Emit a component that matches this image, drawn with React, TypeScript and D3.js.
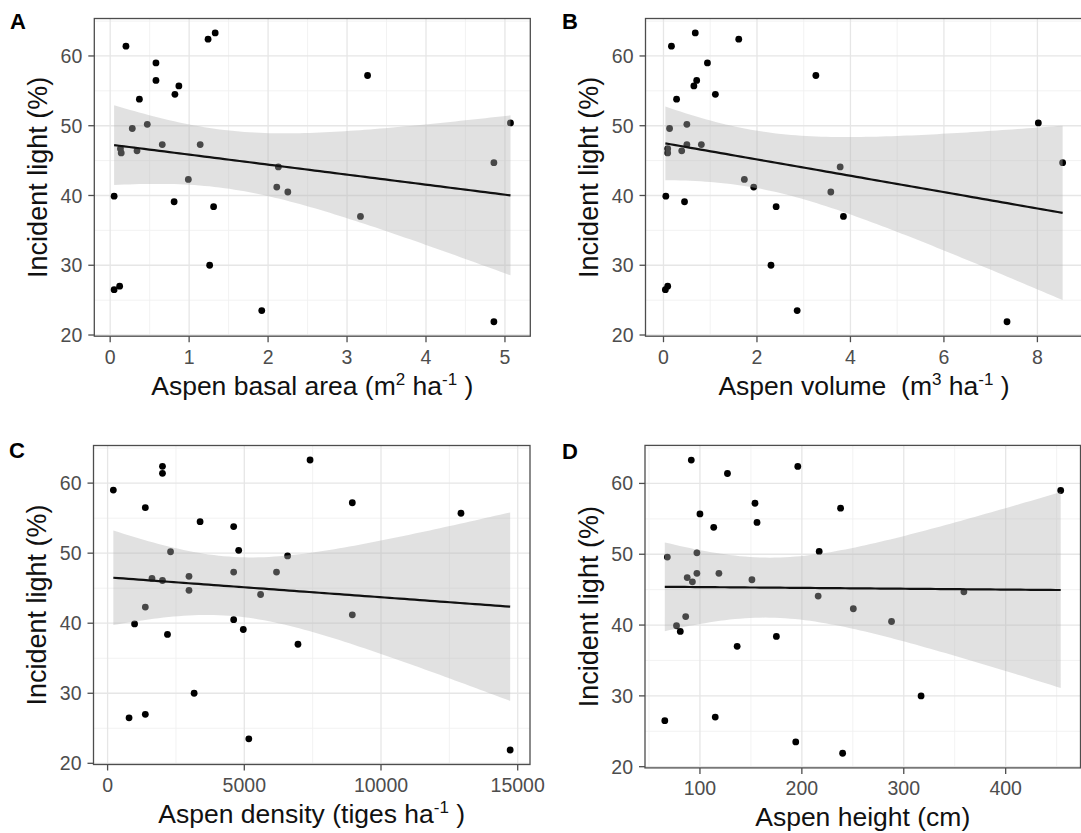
import React from 'react';
import * as d3 from 'd3';

// incident light (%) per site, same order in every x array
const light = [63.3, 62.4, 61.4, 59.0, 57.2, 56.5, 55.7, 54.5, 53.8, 50.4, 50.2, 49.6, 47.3, 47.3, 46.7, 46.4, 46.1, 44.7, 44.1, 42.3, 41.2, 40.5, 39.9, 39.1, 38.4, 37.0, 30.0, 27.0, 26.5, 23.5, 21.9];
const basalArea = [1.33, 1.24, 0.20, 0.58, 3.26, 0.58, 0.87, 0.82, 0.37, 5.07, 0.47, 0.28, 0.66, 1.14, 0.13, 0.34, 0.14, 4.86, 2.13, 0.99, 2.11, 2.25, 0.05, 0.81, 1.31, 3.17, 1.26, 0.12, 0.05, 1.92, 4.86];
const volume = [0.68, 1.61, 0.17, 0.94, 3.26, 0.71, 0.65, 1.11, 0.28, 8.02, 0.50, 0.13, 0.50, 0.81, 0.09, 0.39, 0.09, 8.54, 3.78, 1.73, 1.93, 3.58, 0.05, 0.45, 2.41, 3.85, 2.30, 0.09, 0.04, 2.86, 7.35];
const density = [7405, 2007, 2007, 210, 8950, 1380, 12925, 3383, 4611, 4795, 2302, 6583, 4611, 6178, 2977, 1623, 2007, 2977, 5596, 1380, 8950, 4611, 987, 4963, 2190, 6963, 3165, 1380, 785, 5165, 14724];
const heightCm = [91.5, 196, 127, 454, 154, 238, 100, 156, 113.5, 217, 97, 68, 97, 118.6, 87.5, 151, 92.6, 359, 216, 250.5, 86, 288, 77, 80.7, 175, 136.5, 317, 115, 65.5, 194, 240];

const yTicks = [20, 30, 40, 50, 60];
const yMinor = [25, 35, 45, 55, 65];
const ticksA = [0, 1, 2, 3, 4, 5];
const minorA = [0.5, 1.5, 2.5, 3.5, 4.5];
const ticksB = [0, 2, 4, 6, 8];
const minorB = [1, 3, 5, 7];
const ticksC = [0, 5000, 10000, 15000];
const minorC = [2500, 7500, 12500];
const ticksD = [100, 200, 300, 400];
const minorD = [50, 150, 250, 350, 450];

const FONT = "'Liberation Sans', Arial, Helvetica, sans-serif";

function expand(vals: number[]) {
  const [lo, hi] = d3.extent(vals) as [number, number];
  const pad = (hi - lo) * 0.05;
  return [lo - pad, hi + pad];
}

function fit(xs: number[], ys: number[]) {
  const n = xs.length;
  const mx = d3.mean(xs)!;
  const my = d3.mean(ys)!;
  let sxx = 0, sxy = 0;
  xs.forEach((x, i) => { sxx += (x - mx) ** 2; sxy += (x - mx) * (ys[i] - my); });
  const b = sxy / sxx;
  const a = my - b * mx;
  let rss = 0;
  xs.forEach((x, i) => { rss += (ys[i] - a - b * x) ** 2; });
  const s = Math.sqrt(rss / (n - 2));
  const t = 2.0452; // qt(0.975, 29)
  const [lo, hi] = d3.extent(xs) as [number, number];
  return d3.range(80).map(k => {
    const x = lo + (hi - lo) * k / 79;
    const fitY = a + b * x;
    const se = s * Math.sqrt(1 / n + (x - mx) ** 2 / sxx);
    return { x, y: fitY, lo: fitY - t * se, hi: fitY + t * se };
  });
}

function Panel(props: any) {
  const { letter, letterX, letterY, xs, left, top, w, h, ticks, minor, title } = props;
  const x = d3.scaleLinear().domain(expand(xs)).range([left, left + w]);
  const y = d3.scaleLinear().domain(expand(light)).range([top + h, top]);
  const pred = fit(xs, light);
  const area = d3.area<any>().x(d => x(d.x)).y0(d => y(d.lo)).y1(d => y(d.hi));
  const line = d3.line<any>().x(d => x(d.x)).y(d => y(d.y));
  const bottom = top + h;
  const clipId = 'clip' + letter;
  return (
    <g>
      <defs>
        <clipPath id={clipId}><rect x={left} y={top} width={w} height={h} /></clipPath>
      </defs>
      <g clipPath={`url(#${clipId})`}>
        {minor.map((v: number) => <line key={'mx' + v} x1={x(v)} x2={x(v)} y1={top} y2={bottom} stroke="#f0f0f0" strokeWidth={0.9} />)}
        {yMinor.map(v => <line key={'my' + v} x1={left} x2={left + w} y1={y(v)} y2={y(v)} stroke="#f0f0f0" strokeWidth={0.9} />)}
        {ticks.map((v: number) => <line key={'gx' + v} x1={x(v)} x2={x(v)} y1={top} y2={bottom} stroke="#e6e6e6" strokeWidth={1.3} />)}
        {yTicks.map(v => <line key={'gy' + v} x1={left} x2={left + w} y1={y(v)} y2={y(v)} stroke="#e6e6e6" strokeWidth={1.3} />)}
        {xs.map((v: number, i: number) => <circle key={i} cx={x(v)} cy={y(light[i])} r={3.4} fill="#000" />)}
        <path d={area(pred)!} fill="#b3b3b3" fillOpacity={0.4} />
        <path d={line(pred)!} fill="none" stroke="#111" strokeWidth={2.2} />
      </g>
      <rect x={left} y={top} width={w} height={h} fill="none" stroke="#4d4d4d" strokeWidth={1.3} />
      {ticks.map((v: number) => (
        <g key={'tx' + v}>
          <line x1={x(v)} x2={x(v)} y1={bottom} y2={bottom + 6} stroke="#4d4d4d" strokeWidth={1.3} />
          <text x={x(v)} y={bottom + 27.5} textAnchor="middle" fontSize={19.5} fill="#4d4d4d" fontFamily={FONT}>{v}</text>
        </g>
      ))}
      {yTicks.map(v => (
        <g key={'ty' + v}>
          <line x1={left - 6} x2={left} y1={y(v)} y2={y(v)} stroke="#4d4d4d" strokeWidth={1.3} />
          <text x={left - 12} y={y(v)} dy="0.36em" textAnchor="end" fontSize={19.5} fill="#4d4d4d" fontFamily={FONT}>{v}</text>
        </g>
      ))}
      <text transform={`translate(${left - 47.5},${top + h / 2}) rotate(-90)`} textAnchor="middle" fontSize={27} fill="#111" fontFamily={FONT}>Incident light (%)</text>
      <text x={left + w / 2} y={bottom + 58.5} textAnchor="middle" fontSize={26.5} fill="#111" fontFamily={FONT}>{title}</text>
      <text x={letterX} y={letterY} fontSize={22} fontWeight="bold" fill="#000" fontFamily={FONT}>{letter}</text>
    </g>
  );
}

const sup = (s: string) => [
  <tspan key="s" dy={-10} fontSize={17}>{s}</tspan>,
  <tspan key="r" dy={10}>{'\u00a0'}</tspan>,
];

export default function App() {
  return (
    <svg width={1081} height={833} style={{ position: 'absolute', left: 0, top: 0, background: '#fff' }}>
      <Panel letter="A" letterX={10} letterY={28.5} xs={basalArea} left={94.3} top={18.5} w={436} h={317.7}
        ticks={ticksA} minor={minorA}
        title={<>Aspen basal area (m<tspan dy={-10} fontSize={17}>2</tspan><tspan dy={10}> ha</tspan><tspan dy={-10} fontSize={17}>-1</tspan><tspan dy={10}> )</tspan></>} />
      <Panel letter="B" letterX={562} letterY={29} xs={volume} left={645.5} top={18.5} w={437} h={317.7}
        ticks={ticksB} minor={minorB}
        title={<>Aspen volume {'\u00a0'}(m<tspan dy={-10} fontSize={17}>3</tspan><tspan dy={10}> ha</tspan><tspan dy={-10} fontSize={17}>-1</tspan><tspan dy={10}> )</tspan></>} />
      <Panel letter="C" letterX={9} letterY={458} xs={density} left={93.5} top={445.5} w={436.5} h={319}
        ticks={ticksC} minor={minorC}
        title={<>Aspen density (tiges ha<tspan dy={-10} fontSize={17}>-1</tspan><tspan dy={10}> )</tspan></>} />
      <Panel letter="D" letterX={562} letterY={459} xs={heightCm} left={645} top={445.4} w={435.5} h={322.5}
        ticks={ticksD} minor={minorD}
        title={<>Aspen height (cm)</>} />
    </svg>
  );
}
